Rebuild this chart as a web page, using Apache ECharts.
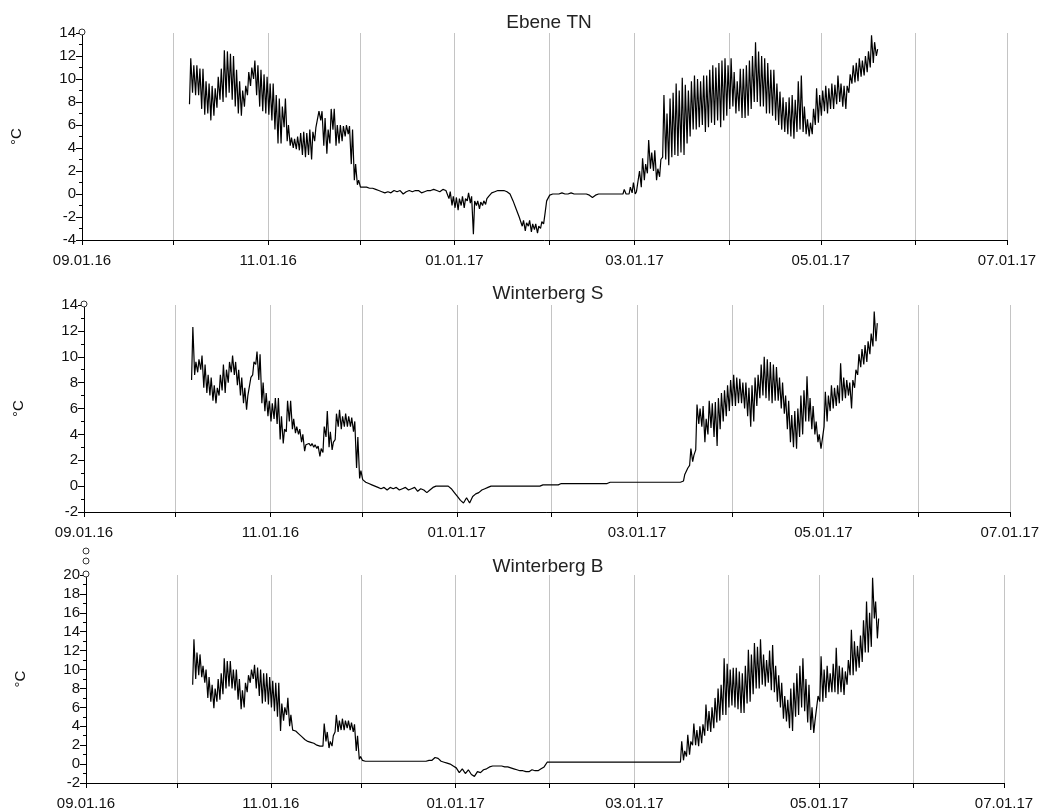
<!DOCTYPE html>
<html>
<head>
<meta charset="utf-8">
<title>Temperaturverlauf</title>
<script src="https://cdn.jsdelivr.net/npm/echarts@6/dist/echarts.min.js"></script>
<style>
  html, body { margin: 0; padding: 0; background: #fff; }
  #chart { width: 1042px; height: 811px; }
</style>
</head>
<body>
<div id="chart"></div>
<script>
// x axis: a tick + grid line at every month start, a label every second month
const monthStarts = ['2016-09-01', '2016-10-01', '2016-11-01', '2016-12-01', '2017-01-01', '2017-02-01',
  '2017-03-01', '2017-04-01', '2017-05-01', '2017-06-01', '2017-07-01']
const labelMonths = ['2016-09-01', '2016-11-01', '2017-01-01', '2017-03-01', '2017-05-01', '2017-07-01']

const panelTitles = ['Ebene TN', 'Winterberg S', 'Winterberg B']
const yMin = [-4, -2, -2]
const yMax = [14, 14, 20]

// daily max / min temperature, first day is the start date
const ebeneStart = '2016-10-06'
const ebeneHigh = [
  11.8, 11.2, 11.2, 10.9, 10.9, 9.8, 9.6, 9.4, 9.2, 10.2,
  10.9, 12.5, 12.4, 12.2, 12.0, 10.8, 9.8, 9.0, 9.4, 10.6,
  11.0, 11.6, 11.2, 10.8, 10.4, 10.2, 9.6, 9.6, 8.6, 8.3,
  7.6, 8.3, 6.0, 4.9, 4.8, 5.0, 5.3, 5.4, 5.3, 5.6,
  5.4, 5.8, 7.2, 7.2, 6.6, 5.6, 7.4, 7.4, 6.0, 6.0,
  5.9, 6.0, 5.9, 5.6, 2.6, 1.2, 0.6, 0.6, 0.6, 0.5,
  0.5, 0.4, 0.3, 0.2, 0.1, 0.2, 0.1, 0.3, 0.2, 0.3,
  0.0, 0.2, 0.3, 0.2, 0.3, 0.3, 0.1, 0.2, 0.3, 0.3,
  0.4, 0.3, 0.2, 0.4, 0.3, 0.2, -0.2, -0.3, -0.4, -0.2,
  -0.4, 0.1, -0.2, -0.6, -0.6, -0.7, -0.6, -0.4, -0.2, 0.1,
  0.2, 0.3, 0.3, 0.3, 0.2, 0.0, -0.6, -1.3, -2.0, -2.3,
  -2.5, -2.3, -2.6, -2.6, -2.8, -2.4, -1.8, -0.6, -0.1, 0.0,
  0.0, 0.0, 0.1, 0.0, 0.0, 0.1, 0.0, 0.0, 0.0, 0.0,
  0.0, -0.1, -0.3, -0.1, 0.0, 0.0, 0.0, 0.0, 0.0, 0.0,
  0.0, 0.0, 0.4, 0.1, 0.6, 1.0, 0.2, 2.0, 3.1, 2.6,
  4.7, 3.6, 3.8, 2.2, 3.0, 8.6, 7.0, 8.3, 8.8, 9.6,
  9.0, 10.1, 9.5, 9.0, 9.8, 10.3, 10.0, 9.8, 10.3, 10.3,
  10.8, 11.2, 11.0, 11.4, 11.6, 11.8, 11.2, 11.8, 10.6, 9.8,
  10.9, 10.9, 11.2, 11.6, 12.0, 13.2, 12.4, 12.0, 11.8, 11.4,
  10.8, 10.8, 9.6, 8.9, 8.4, 8.0, 8.4, 8.6, 8.2, 9.8,
  10.3, 7.6, 6.5, 6.2, 7.4, 9.2, 8.6, 9.0, 9.4, 9.2,
  9.6, 9.5, 10.3, 9.6, 9.4, 9.4, 10.4, 11.2, 11.4, 11.8,
  11.6, 12.0, 12.4, 13.8, 13.2, 12.6
]
const ebeneLow = [
  7.8, 8.8, 8.6, 8.6, 7.4, 6.9, 7.0, 6.4, 6.8, 7.5,
  8.2, 8.0, 8.4, 8.8, 8.2, 7.6, 7.0, 6.8, 7.6, 8.6,
  9.4, 10.0, 8.6, 7.6, 7.2, 7.0, 6.9, 6.4, 5.6, 4.4,
  4.4, 5.8, 4.6, 4.2, 4.0, 3.9, 3.8, 3.4, 3.2, 3.4,
  3.0, 4.6, 5.8, 6.4, 4.2, 3.5, 4.4, 5.6, 4.2, 4.4,
  4.6, 5.0, 5.2, 2.6, 1.2, 0.8, 0.6, 0.6, 0.6, 0.5,
  0.5, 0.4, 0.3, 0.2, 0.1, 0.2, 0.1, 0.3, 0.2, 0.3,
  0.0, 0.2, 0.3, 0.2, 0.3, 0.3, 0.1, 0.2, 0.3, 0.3,
  0.4, 0.3, 0.2, 0.4, 0.3, -0.4, -1.0, -1.2, -1.4, -1.0,
  -1.2, -0.6, -0.8, -3.5, -1.0, -1.3, -1.0, -0.9, -0.2, 0.1,
  0.2, 0.3, 0.3, 0.3, 0.2, 0.0, -0.6, -1.3, -2.0, -2.8,
  -3.2, -2.8, -3.3, -3.1, -3.4, -3.0, -2.6, -0.6, -0.1, 0.0,
  0.0, 0.0, 0.1, 0.0, 0.0, 0.1, 0.0, 0.0, 0.0, 0.0,
  0.0, -0.1, -0.3, -0.1, 0.0, 0.0, 0.0, 0.0, 0.0, 0.0,
  0.0, 0.0, 0.0, 0.0, 0.0, 0.1, 0.0, 0.2, 0.6, 1.2,
  1.8, 2.2, 2.0, 1.2, 1.5, 3.2, 3.0, 2.5, 3.2, 3.4,
  3.3, 3.6, 3.4, 4.4, 5.0, 5.6, 5.6, 5.8, 6.0, 5.4,
  5.8, 6.2, 6.0, 6.4, 5.8, 6.4, 6.8, 7.4, 7.6, 7.0,
  7.2, 6.6, 6.6, 6.8, 7.4, 8.0, 8.0, 7.6, 7.6, 7.0,
  7.0, 6.8, 6.4, 6.0, 5.6, 5.4, 5.2, 5.0, 4.8, 5.4,
  5.6, 5.4, 5.2, 5.0, 5.2, 6.0, 6.2, 6.8, 7.2, 7.0,
  7.4, 7.4, 7.8, 8.0, 7.6, 7.4, 8.8, 9.6, 9.7, 9.8,
  10.2, 10.3, 10.6, 11.0, 11.4, 12.0
]

const winterbergSStart = '2016-10-06'
const winterbergSHigh = [
  12.3, 9.6, 9.8, 10.1, 9.4, 8.6, 8.4, 7.8, 7.6, 8.6,
  9.4, 9.0, 9.6, 10.1, 9.6, 9.0, 8.4, 7.6, 7.0, 8.4,
  9.6, 10.4, 10.2, 8.0, 7.2, 6.6, 6.4, 6.8, 6.8, 5.4,
  4.4, 6.6, 6.6, 5.2, 4.6, 4.4, 4.0, 3.2, 3.3, 3.3,
  3.2, 3.1, 2.9, 4.6, 5.8, 4.2, 3.4, 5.6, 5.9, 5.4,
  5.6, 5.4, 5.3, 5.0, 3.8, 1.2, 0.5, 0.3, 0.2, 0.1,
  0.0, -0.1, -0.2, -0.1, -0.3, -0.1, -0.2, -0.1, -0.3, -0.2,
  -0.1, -0.3, -0.2, -0.1, -0.4, -0.2, -0.3, -0.5, -0.3, -0.1,
  0.0, 0.0, 0.0, 0.0, 0.0, -0.2, -0.5, -0.8, -1.1, -1.3,
  -0.9, -1.3, -0.8, -0.6, -0.5, -0.3, -0.2, -0.1, 0.0, 0.0,
  0.0, 0.0, 0.0, 0.0, 0.0, 0.0, 0.0, 0.0, 0.0, 0.0,
  0.0, 0.0, 0.0, 0.0, 0.0, 0.1, 0.1, 0.1, 0.1, 0.1,
  0.1, 0.2, 0.2, 0.2, 0.2, 0.2, 0.2, 0.2, 0.2, 0.2,
  0.2, 0.2, 0.2, 0.2, 0.2, 0.2, 0.2, 0.3, 0.3, 0.3,
  0.3, 0.3, 0.3, 0.3, 0.3, 0.3, 0.3, 0.3, 0.3, 0.3,
  0.3, 0.3, 0.3, 0.3, 0.3, 0.3, 0.3, 0.3, 0.3, 0.3,
  0.3, 0.9, 1.4, 2.9, 2.4, 6.3, 6.0, 6.2, 5.2, 6.6,
  6.4, 6.5, 6.8, 7.2, 7.4, 7.8, 8.2, 8.6, 8.4, 8.3,
  8.0, 8.0, 7.6, 7.8, 8.4, 8.6, 9.4, 10.0, 9.8, 9.6,
  9.4, 9.2, 8.4, 8.0, 7.0, 6.6, 5.5, 5.8, 6.0, 7.0,
  7.4, 8.5, 6.8, 6.2, 5.0, 4.0, 3.6, 7.3, 7.0, 7.8,
  7.6, 7.8, 9.5, 8.4, 8.2, 8.0, 8.2, 9.0, 10.2, 10.6,
  10.9, 11.2, 11.8, 13.5, 12.6
]
const winterbergSLow = [
  8.2, 8.6, 8.8, 9.0, 7.6, 7.2, 7.0, 6.6, 6.4, 7.0,
  7.4, 7.2, 8.0, 8.8, 8.6, 7.8, 7.0, 6.4, 5.9, 7.0,
  8.6, 9.4, 8.2, 6.4, 5.8, 5.4, 5.0, 5.2, 4.8, 3.6,
  3.3, 4.2, 5.0, 4.4, 4.1, 4.0, 3.4, 2.7, 3.1, 3.1,
  3.0, 2.9, 2.3, 2.6, 3.8, 3.0, 2.8, 3.6, 4.6, 4.4,
  4.6, 4.6, 4.6, 4.2, 1.4, 0.6, 0.5, 0.3, 0.2, 0.1,
  0.0, -0.1, -0.2, -0.1, -0.3, -0.1, -0.2, -0.1, -0.3, -0.2,
  -0.1, -0.3, -0.2, -0.1, -0.4, -0.2, -0.3, -0.5, -0.3, -0.1,
  0.0, 0.0, 0.0, 0.0, 0.0, -0.2, -0.5, -0.8, -1.1, -1.3,
  -0.9, -1.3, -0.8, -0.6, -0.5, -0.3, -0.2, -0.1, 0.0, 0.0,
  0.0, 0.0, 0.0, 0.0, 0.0, 0.0, 0.0, 0.0, 0.0, 0.0,
  0.0, 0.0, 0.0, 0.0, 0.0, 0.1, 0.1, 0.1, 0.1, 0.1,
  0.1, 0.2, 0.2, 0.2, 0.2, 0.2, 0.2, 0.2, 0.2, 0.2,
  0.2, 0.2, 0.2, 0.2, 0.2, 0.2, 0.2, 0.3, 0.3, 0.3,
  0.3, 0.3, 0.3, 0.3, 0.3, 0.3, 0.3, 0.3, 0.3, 0.3,
  0.3, 0.3, 0.3, 0.3, 0.3, 0.3, 0.3, 0.3, 0.3, 0.3,
  0.3, 0.4, 0.9, 1.6, 1.9, 2.8, 4.8, 4.6, 3.4, 4.0,
  4.5, 3.8, 3.1, 4.4, 5.0, 5.4, 5.8, 6.2, 6.2, 6.4,
  6.4, 6.0, 5.4, 4.6, 5.0, 6.2, 6.8, 7.0, 6.8, 6.6,
  6.4, 6.6, 6.6, 6.0, 5.6, 4.4, 3.4, 3.0, 2.9, 3.8,
  4.0, 5.0, 5.0, 4.4, 4.0, 3.4, 2.9, 4.6, 5.0, 5.8,
  6.0, 6.2, 6.4, 6.6, 6.8, 7.0, 6.0, 7.6, 8.6, 9.2,
  9.4, 9.6, 10.2, 10.8, 11.2
]

const winterbergBStart = '2016-10-06'
const winterbergBHigh = [
  13.2, 11.8, 11.6, 10.4, 10.0, 9.2, 8.4, 8.0, 9.0, 9.6,
  11.2, 10.9, 10.9, 10.0, 10.0, 9.0, 7.8, 8.6, 9.4, 10.0,
  10.5, 10.2, 10.0, 9.6, 9.6, 9.2, 8.8, 8.6, 8.6, 6.4,
  6.0, 7.0, 5.2, 3.8, 3.5, 3.2, 2.9, 2.6, 2.4, 2.3,
  2.2, 2.0, 1.9, 4.3, 3.4, 2.4, 3.0, 5.2, 4.6, 4.8,
  4.6, 4.6, 4.4, 4.2, 3.0, 0.8, 0.4, 0.3, 0.3, 0.3,
  0.3, 0.3, 0.3, 0.3, 0.3, 0.3, 0.3, 0.3, 0.3, 0.3,
  0.3, 0.3, 0.3, 0.3, 0.3, 0.3, 0.3, 0.3, 0.4, 0.4,
  0.7, 0.6, 0.3, 0.2, 0.1, 0.0, -0.2, -0.4, -0.9, -0.5,
  -1.0, -0.6, -1.1, -1.3, -0.8, -0.9, -0.6, -0.5, -0.3, -0.2,
  -0.2, -0.2, -0.2, -0.3, -0.3, -0.4, -0.5, -0.6, -0.7, -0.7,
  -0.8, -0.8, -0.6, -0.7, -0.7, -0.5, -0.3, 0.2, 0.2, 0.2,
  0.2, 0.2, 0.2, 0.2, 0.2, 0.2, 0.2, 0.2, 0.2, 0.2,
  0.2, 0.2, 0.2, 0.2, 0.2, 0.2, 0.2, 0.2, 0.2, 0.2,
  0.2, 0.2, 0.2, 0.2, 0.2, 0.2, 0.2, 0.2, 0.2, 0.2,
  0.2, 0.2, 0.2, 0.2, 0.2, 0.2, 0.2, 0.2, 0.2, 0.2,
  0.2, 2.4, 1.4, 3.1, 2.4, 4.3, 3.6, 4.0, 4.2, 6.3,
  5.6, 6.0, 7.0, 8.0, 8.4, 11.2, 10.6, 10.0, 10.2, 10.2,
  9.8, 9.6, 10.4, 12.1, 11.6, 12.8, 12.4, 13.2, 11.6, 11.0,
  12.0, 12.6, 10.4, 9.4, 8.6, 7.2, 6.8, 8.0, 8.6, 9.6,
  10.4, 11.2, 9.0, 8.4, 6.0, 4.6, 7.2, 11.4, 10.0, 10.4,
  9.6, 10.6, 12.3, 10.4, 10.2, 9.8, 11.0, 14.2, 13.0, 12.5,
  13.6, 15.2, 17.2, 16.0, 19.7, 17.2, 15.4
]
const winterbergBLow = [
  8.4, 9.0, 9.4, 9.2, 8.6, 7.0, 6.6, 5.9, 6.6, 6.8,
  7.4, 8.0, 8.2, 8.0, 7.8, 6.8, 5.8, 6.0, 7.6, 8.6,
  9.0, 8.0, 7.2, 6.4, 6.6, 6.3, 6.0, 5.6, 5.0, 3.5,
  4.6, 5.2, 4.0, 3.6, 3.5, 3.2, 2.9, 2.6, 2.4, 2.3,
  2.2, 2.0, 1.9, 1.9, 2.4, 1.7, 1.9, 3.4, 3.4, 3.6,
  3.6, 3.8, 3.6, 3.4, 1.4, 0.5, 0.4, 0.3, 0.3, 0.3,
  0.3, 0.3, 0.3, 0.3, 0.3, 0.3, 0.3, 0.3, 0.3, 0.3,
  0.3, 0.3, 0.3, 0.3, 0.3, 0.3, 0.3, 0.3, 0.4, 0.4,
  0.7, 0.6, 0.3, 0.2, 0.1, 0.0, -0.2, -0.4, -0.9, -0.5,
  -1.0, -0.6, -1.1, -1.3, -0.8, -0.9, -0.6, -0.5, -0.3, -0.2,
  -0.2, -0.2, -0.2, -0.3, -0.3, -0.4, -0.5, -0.6, -0.7, -0.7,
  -0.8, -0.8, -0.6, -0.7, -0.7, -0.5, -0.3, 0.2, 0.2, 0.2,
  0.2, 0.2, 0.2, 0.2, 0.2, 0.2, 0.2, 0.2, 0.2, 0.2,
  0.2, 0.2, 0.2, 0.2, 0.2, 0.2, 0.2, 0.2, 0.2, 0.2,
  0.2, 0.2, 0.2, 0.2, 0.2, 0.2, 0.2, 0.2, 0.2, 0.2,
  0.2, 0.2, 0.2, 0.2, 0.2, 0.2, 0.2, 0.2, 0.2, 0.2,
  0.2, 0.2, 0.4, 0.8, 1.0, 2.0, 2.0, 1.9, 2.2, 3.0,
  3.5, 3.4, 3.8, 4.4, 4.6, 5.2, 5.2, 6.0, 6.2, 6.0,
  5.8, 5.4, 5.4, 6.4, 6.6, 7.4, 8.0, 8.0, 8.4, 8.2,
  8.6, 7.8, 7.6, 6.6, 6.0, 4.8, 4.5, 3.8, 3.5, 5.0,
  5.2, 6.0, 5.6, 4.4, 3.6, 3.3, 4.4, 6.6, 6.6, 7.0,
  7.6, 7.6, 7.6, 7.4, 7.6, 7.3, 8.4, 9.4, 9.4, 9.8,
  10.2, 10.8, 11.8, 11.8, 12.4, 15.4, 13.3
]

const seriesData = [
  [ebeneStart, ebeneHigh, ebeneLow],
  [winterbergSStart, winterbergSHigh, winterbergSLow],
  [winterbergBStart, winterbergBHigh, winterbergBLow]
]

// pixel layout of the three panels
const grids = [
  { left: 82, top: 33, width: 925, height: 207 },
  { left: 84, top: 305, width: 926, height: 207 },
  { left: 86, top: 575, width: 918, height: 208 }
]
const titleTops = [8, 279, 552]
const titleCenters = [544, 543, 543]
const font = "'Liberation Sans', Arial, sans-serif"

function toDate(s) {
  const p = s.split('-')
  return new Date(+p[0], +p[1] - 1, +p[2])
}

// night minimum early in the day, afternoon maximum later
function toPoints(start, high, low) {
  const d0 = toDate(start)
  const pts = []
  high.forEach((h, i) => {
    pts.push([new Date(d0.getFullYear(), d0.getMonth(), d0.getDate() + i, 5).getTime(), low[i]])
    pts.push([new Date(d0.getFullYear(), d0.getMonth(), d0.getDate() + i, 15).getTime(), h])
  })
  return pts
}

function pad(n) {
  return n < 10 ? '0' + n : '' + n
}

function fmtDate(value) {
  const d = new Date(value)
  return pad(d.getMonth() + 1) + '.' + pad(d.getDate()) + '.' + pad(d.getFullYear() % 100)
}

const tickValues = monthStarts.map(s => toDate(s).getTime())
const labelValues = labelMonths.map(s => toDate(s).getTime())

// small open circles at the top end of each value axis (three on the last one)
function endMarker(cx, cy) {
  return { type: 'circle', z: 10, shape: { cx: cx, cy: cy, r: 3 }, style: { fill: '#fff', stroke: '#333', lineWidth: 1 } }
}

const chart = echarts.init(document.getElementById('chart'))

const option = {
  animation: false,
  backgroundColor: '#fff',
  title: panelTitles.map((t, i) => ({
    text: t,
    left: titleCenters[i],
    top: titleTops[i],
    textAlign: 'center',
    textStyle: { fontFamily: font, fontSize: 19, fontWeight: 'normal', color: '#222' }
  })),
  grid: grids,
  xAxis: grids.map((g, i) => ({
    type: 'value',
    gridIndex: i,
    min: tickValues[0],
    max: tickValues[tickValues.length - 1],
    axisLine: { show: true, onZero: false, lineStyle: { color: '#000', width: 1 } },
    axisTick: { show: true, length: 5, customValues: tickValues, lineStyle: { color: '#000' } },
    axisLabel: {
      customValues: labelValues,
      formatter: fmtDate,
      color: '#111',
      fontFamily: font,
      fontSize: 15,
      margin: 13
    },
    splitLine: { show: true, lineStyle: { color: '#c4c4c4', width: 1 } }
  })),
  yAxis: grids.map((g, i) => ({
    type: 'value',
    gridIndex: i,
    min: yMin[i],
    max: yMax[i],
    interval: 2,
    name: '°C',
    nameLocation: 'middle',
    nameRotate: 90,
    nameGap: 58,
    nameTextStyle: { fontFamily: font, fontSize: 15, color: '#111' },
    axisLine: { show: true, lineStyle: { color: '#000', width: 1 } },
    axisTick: { show: true, length: 6, lineStyle: { color: '#000' } },
    minorTick: { show: true, splitNumber: 2, length: 3, lineStyle: { color: '#000' } },
    axisLabel: { color: '#111', fontFamily: font, fontSize: 15, margin: 6 },
    splitLine: { show: false }
  })),
  graphic: [
    endMarker(82, 32),
    endMarker(84, 304),
    endMarker(86, 551),
    endMarker(86, 561),
    endMarker(86, 574)
  ],
  series: seriesData.map((s, i) => ({
    type: 'line',
    xAxisIndex: i,
    yAxisIndex: i,
    data: toPoints(s[0], s[1], s[2]),
    showSymbol: false,
    lineStyle: { color: '#000', width: 1.2 }
  }))
}

chart.setOption(option)
</script>
</body>
</html>
